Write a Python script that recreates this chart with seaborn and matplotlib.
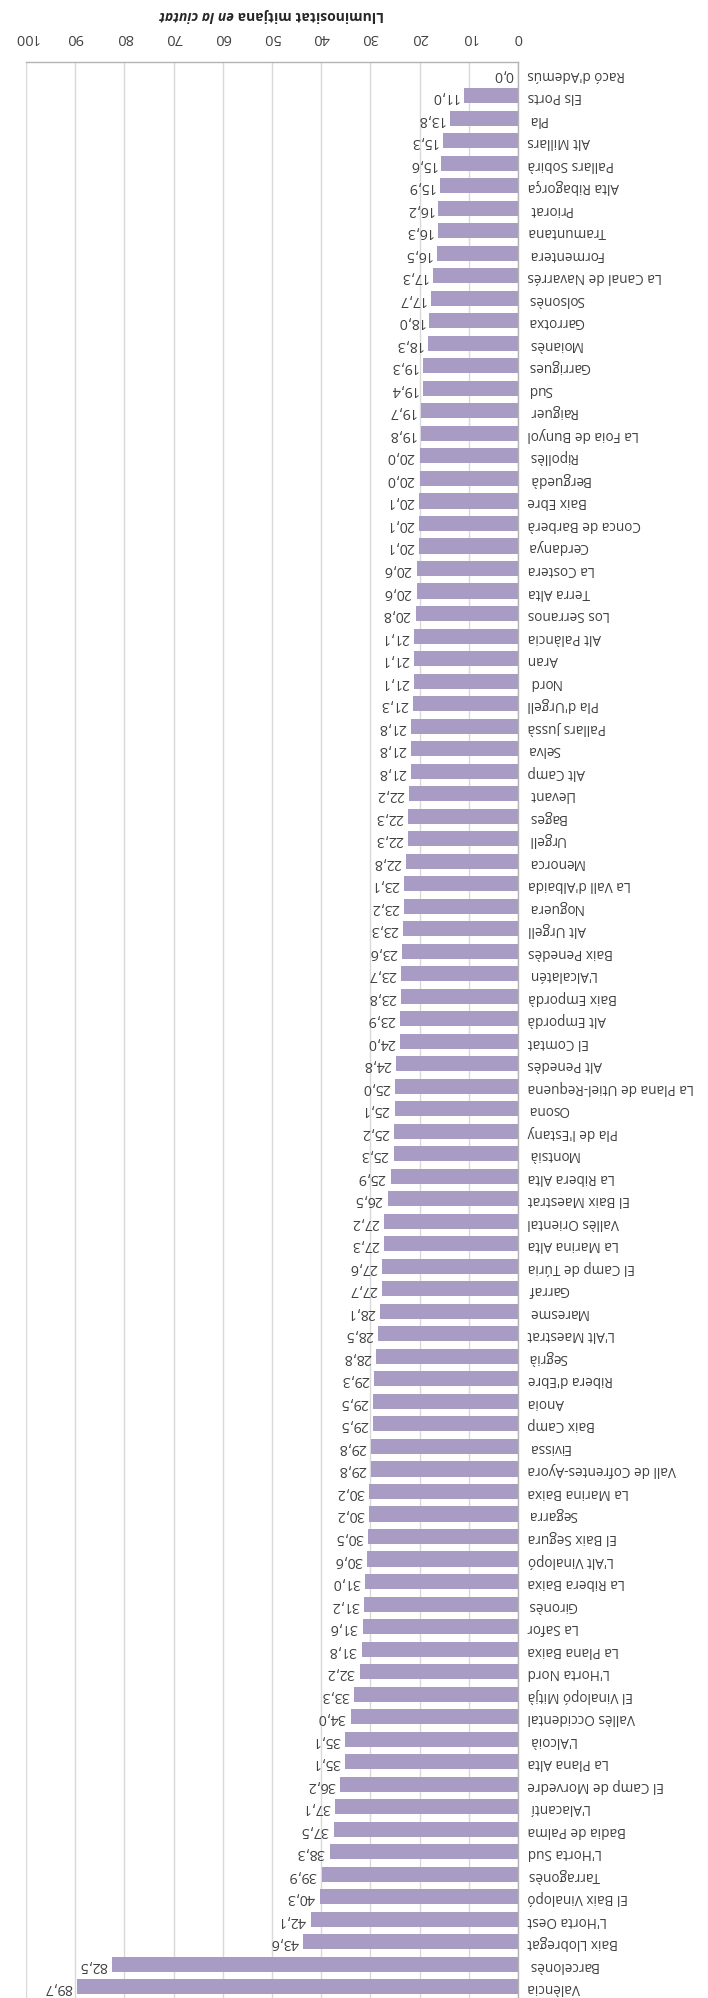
import matplotlib
matplotlib.use("Agg")
import matplotlib.pyplot as plt
import seaborn as sns
import pandas as pd

# Average night-time luminosity per comarca
comarques = [
    "Racó d'Ademús", "Els Ports", "Pla", "Alt Millars", "Pallars Sobirà",
    "Alta Ribagorça", "Priorat", "Tramuntana", "Formentera", "La Canal de Navarrés",
    "Solsonès", "Garrotxa", "Moianès", "Garrigues", "Sud", "Raiguer",
    "La Foia de Bunyol", "Ripollès", "Berguedà", "Baix Ebre", "Conca de Barberà",
    "Cerdanya", "La Costera", "Terra Alta", "Los Serranos", "Alt Palància", "Aran",
    "Nord", "Pla d'Urgell", "Pallars Jussà", "Selva", "Alt Camp", "Llevant",
    "Bages", "Urgell", "Menorca", "La Vall d'Albaida", "Noguera", "Alt Urgell",
    "Baix Penedès", "L'Alcalatén", "Baix Empordà", "Alt Empordà", "El Comtat",
    "Alt Penedès", "La Plana de Utiel-Requena", "Osona", "Pla de l'Estany",
    "Montsià", "La Ribera Alta", "El Baix Maestrat", "Vallès Oriental",
    "La Marina Alta", "El Camp de Túria", "Garraf", "Maresme", "L'Alt Maestrat",
    "Segrià", "Ribera d'Ebre", "Anoia", "Baix Camp", "Eivissa",
    "Vall de Cofrentes-Ayora", "La Marina Baixa", "Segarra", "El Baix Segura",
    "L'Alt Vinalopó", "La Ribera Baixa", "Gironès", "La Safor", "La Plana Baixa",
    "L'Horta Nord", "El Vinalopó Mitjà", "Vallès Occidental", "L'Alcoià",
    "La Plana Alta", "El Camp de Morvedre", "L'Alacantí", "Badia de Palma",
    "L'Horta Sud", "Tarragonès", "El Baix Vinalopó", "L'Horta Oest",
    "Baix Llobregat", "Barcelonès", "València",
]
lluminositat = [
    0.0, 11.0, 13.8, 15.3, 15.6,
    15.9, 16.2, 16.3, 16.5, 17.3,
    17.7, 18.0, 18.3, 19.3, 19.4, 19.7,
    19.8, 20.0, 20.0, 20.1, 20.1,
    20.1, 20.6, 20.6, 20.8, 21.1, 21.1,
    21.1, 21.3, 21.8, 21.8, 21.8, 22.2,
    22.3, 22.3, 22.8, 23.1, 23.2, 23.3,
    23.6, 23.7, 23.8, 23.9, 24.0,
    24.8, 25.0, 25.1, 25.2,
    25.3, 25.9, 26.5, 27.2,
    27.3, 27.6, 27.7, 28.1, 28.5,
    28.8, 29.3, 29.5, 29.5, 29.8,
    29.8, 30.2, 30.2, 30.5,
    30.6, 31.0, 31.2, 31.6, 31.8,
    32.2, 33.3, 34.0, 35.1,
    35.1, 36.2, 37.1, 37.5,
    38.3, 39.9, 40.3, 42.1,
    43.6, 82.5, 89.7,
]
eix_ticks = [0, 10, 20, 30, 40, 50, 60, 70, 80, 90, 100]

BAR = "#A89BC4"
TXT = "#404040"
GRID = "#D9D9D9"
AXIS = "#B3B3B3"

sns.set_theme(style="white")
plt.rcParams["font.family"] = ["Open Sans", "DejaVu Sans"]

df = pd.DataFrame({"comarca": comarques, "valor": lluminositat})

W, H = 708, 1999
fig = plt.figure(figsize=(W / 100, H / 100), dpi=100)
x0, x1, ytop = 26, 518, 63
ax = fig.add_axes([x0 / W, 0, (x1 - x0) / W, 1 - ytop / H])

sns.barplot(data=df, y="comarca", x="valor", orient="h", color=BAR,
            saturation=1, width=0.67, linewidth=0, ax=ax, zorder=2)

# Whole chart is drawn turned upside down
ax.set_xlim(100, 0)
ax.set_ylim(len(comarques) - 0.5, -0.5)
ax.set_xlabel("")
ax.set_ylabel("")

ax.xaxis.tick_top()
ax.set_xticks(eix_ticks)
ax.set_xticklabels([str(t) for t in eix_ticks])
ax.tick_params(axis="x", labelrotation=180, length=0, pad=13,
               labelsize=10.5, labelcolor=TXT)

ax.yaxis.tick_right()
ax.tick_params(axis="y", labelrotation=180, length=0, pad=7,
               labelsize=9.8, labelcolor=TXT)
for lab in ax.get_yticklabels():
    lab.set_verticalalignment("center")

ax.grid(axis="x", color=GRID, linewidth=1)
ax.grid(axis="y", visible=False)
ax.set_axisbelow(True)
for side in ("left", "bottom"):
    ax.spines[side].set_visible(False)
for side in ("top", "right"):
    ax.spines[side].set_color(AXIS)
    ax.spines[side].set_linewidth(1)
    ax.spines[side].set_zorder(3)

for i, v in enumerate(lluminositat):
    ax.text(v + 1.0, i, f"{v:.1f}".replace(".", ","), rotation=180,
            ha="right", va="center", fontsize=10.3, color=TXT)

# Axis title, bold with an italic tail, upside down
ty = 1 - 15 / H
t1 = fig.text(0, ty, "Lluminositat mitjana", rotation=180, ha="left",
              va="center", fontsize=10, weight="bold", color="#262626")
t2 = fig.text(0, ty, "en la ciutat", rotation=180, ha="right", va="center",
              fontsize=10, weight="bold", style="italic", color="#262626")
fig.canvas.draw()
r = fig.canvas.get_renderer()
w1 = t1.get_window_extent(r).width
w2 = t2.get_window_extent(r).width
gap = 4
centre = (x0 + x1) / 2
left = centre - (w1 + w2 + gap) / 2
t2.set_x((left + w2) / W)
t1.set_x((left + w2 + gap) / W)

fig.savefig("out.png", dpi=100)
